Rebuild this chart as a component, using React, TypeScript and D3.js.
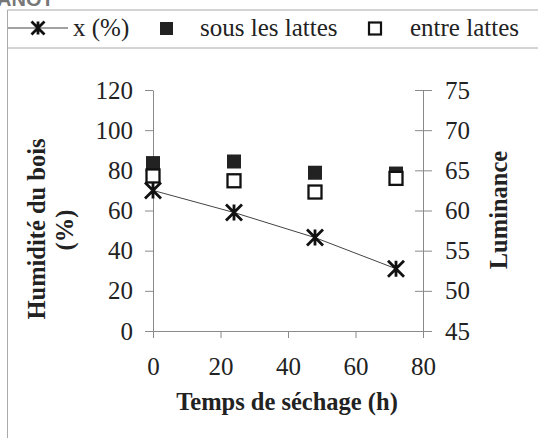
import { useEffect, useRef } from "react";
import * as d3 from "d3";

const hours = [0, 24, 48, 72];
const moisture = [70, 59, 46.5, 31];
const underLaths = [65.9, 66.1, 64.7, 64.6];
const betweenLaths = [64.3, 63.7, 62.3, 64.0];
const xTicks = [0, 20, 40, 60, 80];
const leftTicks = [0, 20, 40, 60, 80, 100, 120];
const rightTicks = [45, 50, 55, 60, 65, 70, 75];

const W = 538;
const H = 438;
const serif = "Liberation Serif";

export default function App() {
  const ref = useRef<SVGSVGElement>(null);

  useEffect(() => {
    const svg = d3.select(ref.current);
    svg.selectAll("*").remove();

    const x = d3.scaleLinear().domain([0, 80]).range([153, 423]);
    const yL = d3.scaleLinear().domain([0, 120]).range([331, 90]);
    const yR = d3.scaleLinear().domain([45, 75]).range([331, 90]);
    const axisColor = "#8a8a8a";

    // cropped heading at the very top
    svg.append("text")
      .attr("x", -3).attr("y", 6)
      .attr("font-family", "Liberation Sans")
      .attr("font-weight", "bold").attr("font-size", 20)
      .attr("fill", "#777").text("ANOT");

    // frame
    svg.append("path")
      .attr("d", `M${W},10 H7.5 V${H} M7.5,48 H${W}`)
      .attr("fill", "none").attr("stroke", "#aaa").attr("stroke-width", 1);

    // legend
    const lg = svg.append("g");
    lg.append("line").attr("x1", 8).attr("x2", 68).attr("y1", 28).attr("y2", 28)
      .attr("stroke", "#444").attr("stroke-width", 1);
    const star = (g: any, cx: number, cy: number, r: number) => {
      g.append("path")
        .attr("d", `M${cx - r},${cy - r}L${cx + r},${cy + r}M${cx - r},${cy + r}L${cx + r},${cy - r}M${cx},${cy - r}L${cx},${cy + r}`)
        .attr("stroke", "#111").attr("stroke-width", 2.8).attr("fill", "none");
    };
    star(lg, 38, 28, 6.5);
    const legendText = [
      { x: 73, t: "x (%)" },
      { x: 200, t: "sous les lattes" },
      { x: 410, t: "entre lattes" },
    ];
    legendText.forEach((d) =>
      lg.append("text").attr("x", d.x).attr("y", 36)
        .attr("font-family", serif).attr("font-size", 25).attr("fill", "#222").text(d.t)
    );
    lg.append("rect").attr("x", 160).attr("y", 22).attr("width", 13).attr("height", 13).attr("fill", "#222");
    lg.append("rect").attr("x", 369).attr("y", 22.5).attr("width", 12).attr("height", 12)
      .attr("fill", "#fff").attr("stroke", "#111").attr("stroke-width", 2.2);

    // axes
    const styleAxis = (g: any) => {
      g.attr("font-family", serif).attr("font-size", 25);
      g.select(".domain").attr("stroke", axisColor);
      g.selectAll(".tick line").attr("stroke", axisColor);
      g.selectAll(".tick text").attr("fill", "#222");
    };

    svg.append("g")
      .attr("transform", "translate(0,331)")
      .call(d3.axisBottom(x).tickValues(xTicks).tickSizeInner(7).tickSizeOuter(0).tickPadding(19).tickFormat(d3.format("d")))
      .call(styleAxis);

    svg.append("g")
      .attr("transform", "translate(153,0)")
      .call(d3.axisLeft(yL).tickValues(leftTicks).tickSizeInner(8).tickSizeOuter(0).tickPadding(12).tickFormat(d3.format("d")))
      .call(styleAxis);

    svg.append("g")
      .attr("transform", "translate(423,0)")
      .call(d3.axisRight(yR).tickValues(rightTicks).tickSizeInner(9).tickSizeOuter(0).tickPadding(13).tickFormat(d3.format("d")))
      .call(styleAxis)
      .call((g: any) => g.selectAll(".tick line").attr("x1", -8));

    // axis titles
    const ttl = svg.append("g").attr("font-family", serif).attr("font-weight", "bold")
      .attr("font-size", 24.5).attr("fill", "#222").attr("text-anchor", "middle");
    ttl.append("text").attr("transform", "translate(45,229) rotate(-90)").text("Humidité du bois");
    ttl.append("text").attr("transform", "translate(73,230) rotate(-90)").text("(%)");
    ttl.append("text").attr("transform", "translate(507,210) rotate(-90)").text("Luminance");
    ttl.append("text").attr("x", 287).attr("y", 410).text("Temps de séchage (h)");

    // moisture line
    const pts = hours.map((h, i) => [h, moisture[i]] as [number, number]);
    svg.append("path")
      .attr("d", d3.line<[number, number]>().x((d) => x(d[0])).y((d) => yL(d[1]))(pts))
      .attr("fill", "none").attr("stroke", "#444").attr("stroke-width", 1);

    // luminance squares
    const s = 14;
    svg.append("g").selectAll("rect").data(hours).join("rect")
      .attr("x", (h) => x(h) - s / 2)
      .attr("y", (_h, i) => yR(underLaths[i]) - s / 2)
      .attr("width", s).attr("height", s).attr("fill", "#222");
    svg.append("g").selectAll("rect").data(hours).join("rect")
      .attr("x", (h) => x(h) - 6.5)
      .attr("y", (_h, i) => yR(betweenLaths[i]) - 6.5)
      .attr("width", 13).attr("height", 13)
      .attr("fill", "#fff").attr("stroke", "#111").attr("stroke-width", 2.3);

    pts.forEach((d) => star(svg, x(d[0]), yL(d[1]), 8));
  }, []);

  return (
    <svg
      ref={ref}
      width={W}
      height={H}
      style={{ position: "absolute", left: 0, top: 0, background: "#fff" }}
    />
  );
}
